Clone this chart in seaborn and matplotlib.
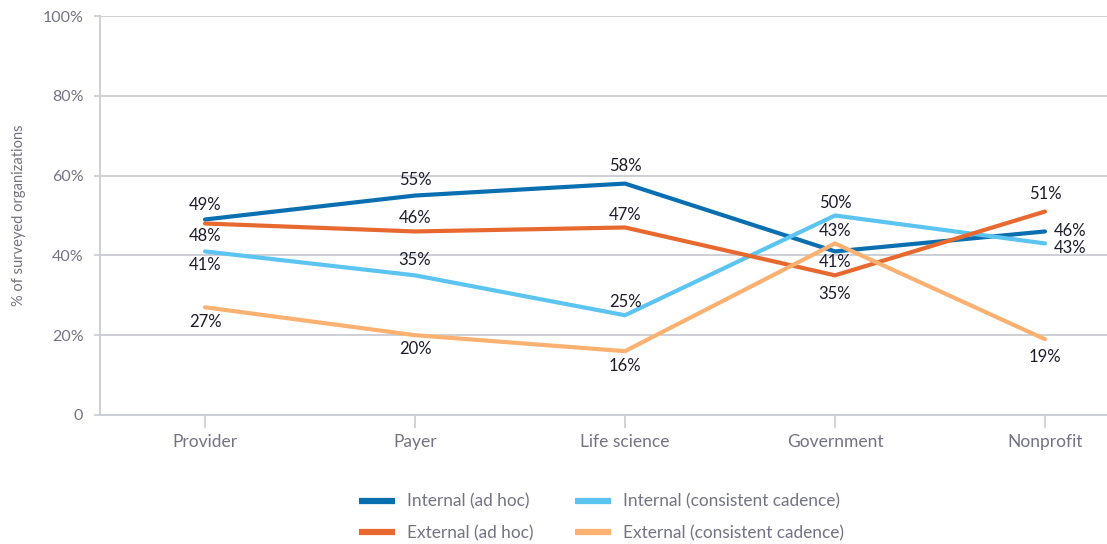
import matplotlib
matplotlib.use("Agg")
import matplotlib.pyplot as plt
import seaborn as sns
import pandas as pd
from matplotlib.lines import Line2D

categories = ["Provider", "Payer", "Life science", "Government", "Nonprofit"]
series_names = ["Internal (ad hoc)", "Internal (consistent cadence)",
                "External (ad hoc)", "External (consistent cadence)"]
internal_ad_hoc = [49, 55, 58, 41, 46]
internal_consistent = [41, 35, 25, 50, 43]
external_ad_hoc = [48, 46, 47, 35, 51]
external_consistent = [27, 20, 16, 43, 19]
y_ticks = [0, 20, 40, 60, 80, 100]
y_tick_labels = ["0", "20%", "40%", "60%", "80%", "100%"]

colors = ["#0a6fb0", "#5cc4f1", "#e8692f", "#fbb171"]

# label placement (style): (dx px, dy px, ha)
label_offsets = [
    [(0, 14, "center"), (0, 16, "center"), (0, 18, "center"), (0, -11, "center"), (9, 0, "left")],
    [(0, -14, "center"), (0, 15, "center"), (0, 13, "center"), (0, 13, "center"), (9, -5, "left")],
    [(0, -13, "center"), (0, 13, "center"), (0, 12, "center"), (0, -19, "center"), (0, 18, "center")],
    [(0, -15, "center"), (0, -14, "center"), (0, -15, "center"), (0, 12, "center"), (0, -18, "center")],
]

all_vals = [internal_ad_hoc, internal_consistent, external_ad_hoc, external_consistent]
rows = []
for name, vals in zip(series_names, all_vals):
    for i, (c, v) in enumerate(zip(categories, vals)):
        rows.append({"category": c, "pos": i, "value": v, "series": name})
df = pd.DataFrame(rows)

sns.set_theme(style="white")
plt.rcParams["font.family"] = ["Lato", "DejaVu Sans"]

fig = plt.figure(figsize=(11.07, 5.44), dpi=100)
ax = fig.add_axes([100 / 1107, 1 - 415 / 544, 1 - 100 / 1107, (415 - 16) / 544])

sns.lineplot(data=df, x="pos", y="value", hue="series", hue_order=series_names,
             palette=colors, linewidth=3, ax=ax, legend=False, sort=False)

text_color = "#1c1c2a"
for si, vals in enumerate(all_vals):
    for i, v in enumerate(vals):
        dx, dy, ha = label_offsets[si][i]
        ax.annotate(f"{v}%", xy=(i, v), xytext=(dx, dy), textcoords="offset pixels",
                    ha=ha, va="center", fontsize=12, color=text_color)

ax.set_xlim(-0.5, (1107 - 205) / 210)
ax.set_ylim(0, 100)
ax.set_yticks(y_ticks)
ax.set_yticklabels(y_tick_labels)
ax.set_xticks(range(len(categories)))
ax.set_xticklabels(categories)

grid_color = "#c9ccd1"
ax.grid(axis="y", color=grid_color, linewidth=1.3)
ax.set_axisbelow(True)
for s in ["top", "right"]:
    ax.spines[s].set_visible(False)
ax.spines["left"].set_color(grid_color)
ax.spines["left"].set_linewidth(1.3)
ax.spines["bottom"].set_color(grid_color)
ax.spines["bottom"].set_linewidth(1.3)
ax.tick_params(axis="y", length=4, width=1.2, color=grid_color, labelsize=11.5,
               labelcolor="#737384", pad=8, left=True)
ax.tick_params(axis="x", length=9, width=1.2, color=grid_color, labelsize=12.5,
               labelcolor="#737384", pad=5, bottom=True)
ax.set_xlabel("")
ax.set_ylabel("% of surveyed organizations", fontsize=10.5, color="#737384", labelpad=12)

handles = [Line2D([0], [0], color=c, linewidth=4.5, solid_capstyle="butt") for c in colors]
order = [0, 2, 1, 3]
fig.legend([handles[i] for i in order], [series_names[i] for i in order],
           loc="center", bbox_to_anchor=(0.5434, 1 - 517.5 / 544), ncol=2, frameon=False,
           fontsize=12.4, labelcolor="#737384", handlelength=2.05, handletextpad=0.7,
           columnspacing=2.45, labelspacing=0.9)

fig.savefig("out.png", dpi=100)
